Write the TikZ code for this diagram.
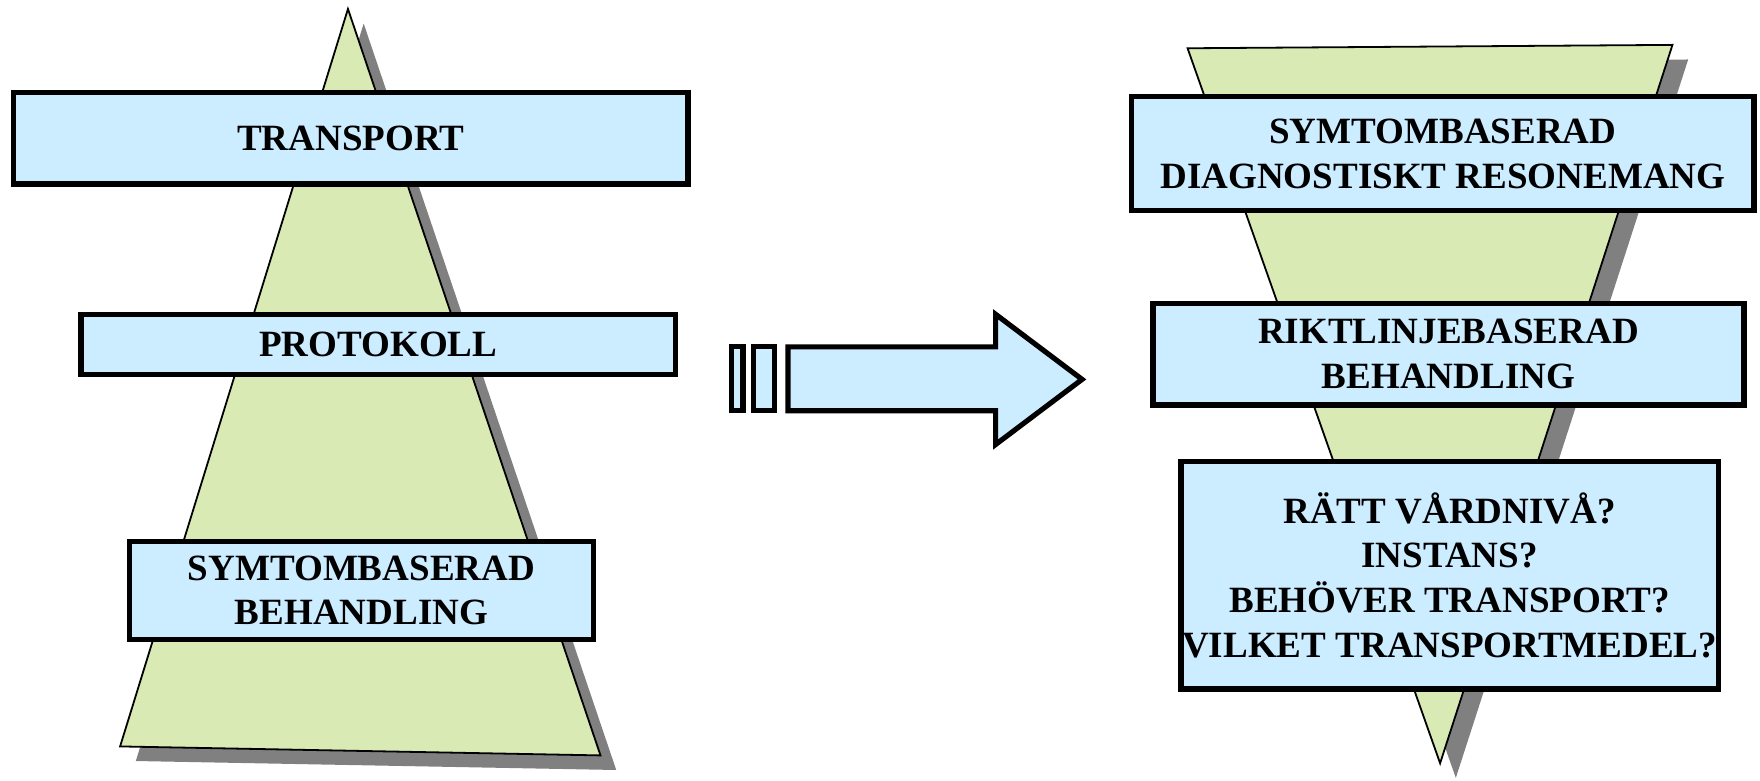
\documentclass[tikz,border=0pt]{standalone}
\usepackage{fontspec}
\setmainfont{Liberation Serif}
\definecolor{pyrgreen}{RGB}{217,234,180}
\definecolor{boxblue}{RGB}{204,236,255}
\definecolor{shadowgray}{RGB}{128,128,128}
\tikzset{
    level/.style={draw,line width=2.4pt,fill=boxblue,align=center,inner sep=0pt,
        font=\bfseries\fontsize{16.5}{20}\selectfont},
    pyramid/.style={draw,line width=0.8pt,fill=pyrgreen},
    pshadow/.style={fill=shadowgray},
    bigarrow/.style={draw,line width=2.3pt,fill=boxblue}
}
\begin{document}
\begin{tikzpicture}[x=0.5pt,y=-0.5pt]
        \useasboundingbox (0,0) rectangle (1568,695);

        % left pyramid
        \coordinate (ltop) at (310,8);
        \coordinate (lleft) at (107,665);
        \coordinate (lright) at (535,673);
        \fill[pshadow] ([shift={(14,13)}]ltop) -- ([shift={(14,13)}]lleft) -- ([shift={(14,13)}]lright) -- cycle;
        \draw[pyramid] (ltop) -- (lleft) -- (lright) -- cycle;

        % right pyramid, upside down
        \coordinate (rleft) at (1058,43);
        \coordinate (rright) at (1490,40);
        \coordinate (rbottom) at (1283,680);
        \fill[pshadow] ([shift={(14,13)}]rleft) -- ([shift={(14,13)}]rright) -- ([shift={(14,13)}]rbottom) -- cycle;
        \draw[pyramid] (rleft) -- (rright) -- (rbottom) -- cycle;

        % levels, left
        \node[level,minimum width=300.3pt,minimum height=40.8pt] (transport) at (312.5,123) {TRANSPORT};
        \node[level,minimum width=264.8pt,minimum height=26.8pt] (protokoll) at (337,307) {PROTOKOLL};
        \node[level,minimum width=206.8pt,minimum height=43.8pt] (symtom) at (322,526) {SYMTOMBASERAD\\BEHANDLING};

        % levels, right
        \node[level,minimum width=277.3pt,minimum height=50.8pt] (diagnos) at (1285.5,137) {SYMTOMBASERAD\\DIAGNOSTISKT RESONEMANG};
        \node[level,minimum width=263.3pt,minimum height=45.3pt] (riktlinje) at (1290.5,315.5) {RIKTLINJEBASERAD\\BEHANDLING};
        \node[level,minimum width=239.3pt,minimum height=101.3pt] (fragor) at (1291.5,512.5) {RÄTT VÅRDNIVÅ?\\INSTANS?\\BEHÖVER TRANSPORT?\\VILKET TRANSPORTMEDEL?};

        % striped arrow
        \draw[bigarrow] (652,309) rectangle (662,366);
        \draw[bigarrow] (671,309) rectangle (690,366);
        \draw[bigarrow] (702,309) -- (887,309) -- (887,280) -- (964,338) -- (887,396) -- (887,366) -- (702,366) -- cycle;
    \end{tikzpicture}
\end{document}
